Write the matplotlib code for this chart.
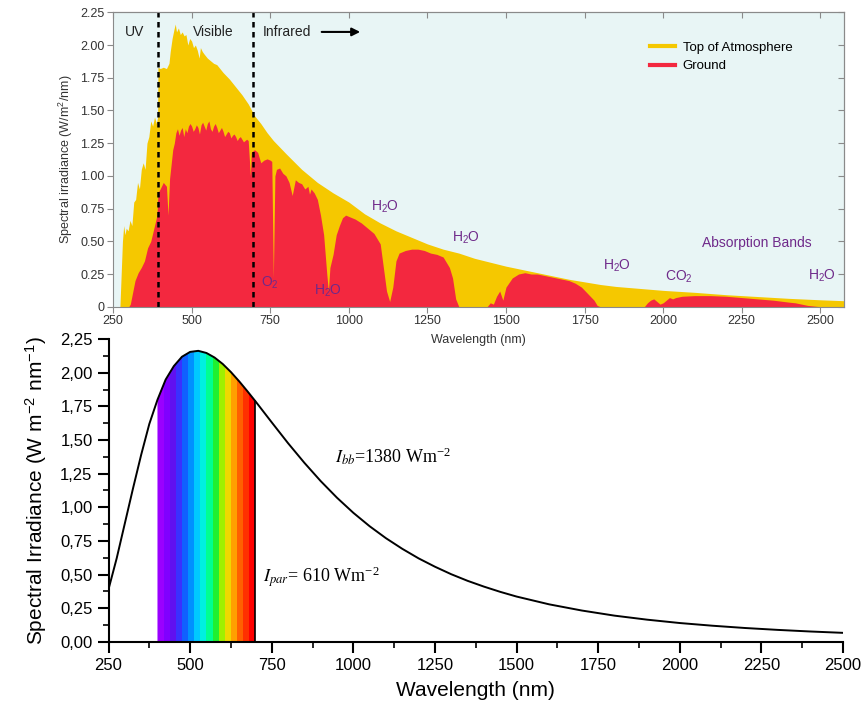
import numpy as np
import matplotlib.pyplot as plt
from matplotlib.patches import Polygon
from matplotlib.lines import Line2D
from matplotlib.ticker import MultipleLocator, FuncFormatter

plt.rcParams['font.family'] = ['Liberation Sans', 'DejaVu Sans']
plt.rcParams['mathtext.fontset'] = 'stix'

# ---- top panel: solar spectrum ----
toa_wl = [250, 272, 276, 280, 284, 288, 292, 298, 304, 310, 316, 322, 328, 334, 340,
          346, 352, 358, 364, 370, 376, 382, 388, 392, 393, 400, 410, 420, 428, 432,
          438, 444, 448, 452, 458, 464, 470, 476, 482, 488, 494, 500, 506, 512, 518,
          524, 528, 534, 540, 550, 560, 570, 580, 590, 600, 620, 640, 660, 680, 700,
          720, 740, 760, 780, 800, 850, 900, 950, 1000, 1050, 1100, 1150, 1200, 1250,
          1300, 1350, 1400, 1450, 1500, 1550, 1600, 1650, 1700, 1750, 1800, 1850,
          1900, 1950, 2000, 2100, 2200, 2300, 2400, 2500, 2575]
toa_val = [0, 0, 0.25, 0.5, 0.62, 0.55, 0.6, 0.58, 0.66, 0.62, 0.8, 0.82, 0.95, 0.9, 1.05,
           1.1, 1.05, 1.25, 1.3, 1.42, 1.38, 1.45, 1.4, 1.45, 1.83, 1.82, 1.83, 1.82, 1.86, 1.95,
           2.05, 2.12, 2.16, 2.1, 2.13, 2.08, 2.1, 2.07, 2.08, 2.0, 2.05, 2.03, 1.98, 2.0, 1.96,
           1.9, 1.98, 1.95, 1.93, 1.90, 1.88, 1.86, 1.85, 1.82, 1.79, 1.74, 1.68, 1.62, 1.55, 1.46,
           1.40, 1.33, 1.27, 1.22, 1.17, 1.05, 0.95, 0.87, 0.80, 0.71, 0.64, 0.58, 0.53, 0.48,
           0.44, 0.41, 0.37, 0.34, 0.31, 0.285, 0.26, 0.235, 0.21, 0.19, 0.17, 0.155,
           0.145, 0.135, 0.125, 0.11, 0.092, 0.078, 0.064, 0.053, 0.046]

gnd_wl = [250, 300, 305, 310, 320, 330, 340, 350, 360, 370, 380, 390, 393, 400, 410, 420,
          425, 430, 440, 445, 450, 455, 460, 465, 470, 475, 480, 485, 490, 495, 500, 505,
          510, 515, 520, 525, 530, 535, 540, 545, 550, 555, 560, 565, 570, 575, 580, 585,
          590, 595, 600, 605, 610, 615, 620, 625, 630, 635, 640, 645, 650, 655, 660, 665,
          670, 675, 680, 687, 690, 700, 710, 720, 730, 740, 750, 755, 760, 765, 770, 780,
          790, 800, 810, 820, 830, 840, 850, 860, 870, 875, 880, 890, 900, 910, 920, 930,
          935, 940, 950, 960, 970, 980, 990, 1000, 1020, 1040, 1060, 1080, 1100, 1110,
          1120, 1130, 1140, 1150, 1160, 1180, 1200, 1220, 1240, 1260, 1280, 1300, 1320,
          1330, 1340, 1350, 1440, 1450, 1460, 1470, 1480, 1490, 1500, 1520, 1540, 1560,
          1580, 1600, 1620, 1640, 1660, 1680, 1700, 1720, 1740, 1760, 1780, 1790, 1800,
          1940, 1950, 1960, 1970, 1980, 1990, 2000, 2010, 2020, 2030, 2040, 2060, 2100,
          2150, 2200, 2250, 2300, 2350, 2400, 2420, 2440, 2460, 2480, 2500, 2575]
gnd_val = [0, 0, 0.02, 0.08, 0.2, 0.26, 0.3, 0.35, 0.45, 0.5, 0.6, 0.7, 0.87, 0.9, 0.95, 0.92,
           0.7, 0.98, 1.2, 1.25, 1.33, 1.36, 1.31, 1.35, 1.37, 1.30, 1.36, 1.33, 1.38, 1.40, 1.38, 1.34,
           1.36, 1.39, 1.37, 1.32, 1.39, 1.41, 1.38, 1.35, 1.40, 1.42, 1.36, 1.34, 1.38, 1.40, 1.37, 1.33,
           1.35, 1.37, 1.34, 1.30, 1.32, 1.34, 1.33, 1.29, 1.31, 1.32, 1.30, 1.27, 1.29, 1.30, 1.28, 1.26,
           1.27, 1.28, 1.27, 1.0, 1.18, 1.2, 1.18, 1.1, 1.12, 1.13, 1.12, 1.11, 0.22, 1.0, 1.05, 1.06,
           1.02, 1.00, 0.95, 0.85, 0.97, 0.95, 0.94, 0.90, 0.92, 0.86, 0.90, 0.87, 0.82, 0.70, 0.55, 0.25,
           0.12, 0.3, 0.4, 0.55, 0.62, 0.68, 0.70, 0.69, 0.67, 0.64, 0.60, 0.56, 0.48, 0.30,
           0.12, 0.04, 0.15, 0.35, 0.41, 0.43, 0.44, 0.44, 0.43, 0.41, 0.40, 0.38, 0.30,
           0.22, 0.06, 0, 0, 0.03, 0.02, 0.08, 0.12, 0.05, 0.15, 0.22, 0.25, 0.26,
           0.25, 0.25, 0.24, 0.23, 0.22, 0.21, 0.20, 0.18, 0.15, 0.10, 0.05, 0.01, 0,
           0, 0.03, 0.05, 0.06, 0.04, 0.02, 0.03, 0.05, 0.07, 0.06, 0.07, 0.08, 0.085,
           0.085, 0.08, 0.07, 0.06, 0.05, 0.035, 0.03, 0.02, 0.01, 0.005, 0, 0]

# ---- bottom panel: blackbody curve ----
bb_wl = [250, 275, 300, 325, 350, 375, 400, 425, 450, 475, 500, 525, 550, 575, 600, 625,
         650, 675, 700, 750, 800, 850, 900, 950, 1000, 1050, 1100, 1150, 1200, 1250, 1300,
         1350, 1400, 1450, 1500, 1600, 1700, 1800, 1900, 2000, 2100, 2200, 2300, 2400, 2500]
bb_val = [0.39, 0.62, 0.88, 1.14, 1.39, 1.62, 1.80, 1.95, 2.05, 2.12, 2.156, 2.164, 2.148,
          2.114, 2.066, 2.006, 1.938, 1.865, 1.789, 1.632, 1.477, 1.331, 1.195, 1.071, 0.959,
          0.859, 0.770, 0.691, 0.620, 0.558, 0.502, 0.453, 0.410, 0.371, 0.336, 0.278, 0.232,
          0.194, 0.164, 0.139, 0.119, 0.102, 0.088, 0.076, 0.066]

par_colors = ['#9A00FF', '#8000FF', '#6010F0', '#3A30FF', '#1060FF', '#0090FF', '#00C8FF',
              '#00F0E0', '#00FF90', '#20F030', '#A0F000', '#F0D800', '#FFA000', '#FF6000',
              '#FF3000', '#FF0000']

yellow = '#F5C800'
red = '#F3283F'
purple = '#6F2A8A'
grey = '#8A8A8A'
sub2 = '$\\mathregular{_2}$'

fig = plt.figure(figsize=(8.66, 7.15), dpi=100)

# top panel
ax1 = fig.add_axes([0.1305, 0.571, 0.844, 0.4118])
ax1.set_facecolor('#E8F5F5')
ax1.fill_between(toa_wl, toa_val, color=yellow, lw=0)
ax1.fill_between(gnd_wl, gnd_val, color=red, lw=0)
ax1.set_xlim(250, 2575)
ax1.set_ylim(0, 2.25)
ax1.set_xticks(range(250, 2501, 250))
yt = np.arange(0, 2.26, 0.25)
ax1.set_yticks(yt)
ax1.set_yticklabels(['0'] + ['%.2f' % v for v in yt[1:]])
ax1.tick_params(length=4, color=grey, labelsize=9, labelcolor='#333333', pad=2)
for s in ax1.spines.values():
    s.set_color(grey)
sx = ax1.secondary_xaxis('top')
sx.set_xticks(range(250, 2501, 250))
sx.tick_params(direction='in', length=4, color=grey, labeltop=False)
sy = ax1.secondary_yaxis('right')
sy.set_yticks(yt)
sy.tick_params(direction='in', length=4, color=grey, labelright=False)
for s in list(sx.spines.values()) + list(sy.spines.values()):
    s.set_color(grey)

ax1.axvline(392, color='black', ls=(0, (2.2, 1.8)), lw=1.8)
ax1.axvline(695, color='black', ls=(0, (2.2, 1.8)), lw=1.8)
ax1.text(320, 2.1, 'UV', fontsize=10, ha='center', va='center', color='#222222')
ax1.text(568, 2.1, 'Visible', fontsize=10, ha='center', va='center', color='#222222')
ax1.text(727, 2.1, 'Infrared', fontsize=10, ha='left', va='center', color='#222222')
ax1.annotate('', xy=(1045, 2.1), xytext=(905, 2.1),
             arrowprops=dict(arrowstyle='-|>', color='black', lw=1.5, mutation_scale=12))

ax1.text(749, 0.18, 'O' + sub2, fontsize=10, ha='center', va='center', color=purple)
for x, y in [(934, 0.12), (1115, 0.76), (1373, 0.53), (1853, 0.31), (2505, 0.235)]:
    ax1.text(x, y, 'H' + sub2 + 'O', fontsize=10, ha='center', va='center', color=purple)
ax1.text(2050, 0.23, 'CO' + sub2, fontsize=10, ha='center', va='center', color=purple)
ax1.text(2298, 0.49, 'Absorption Bands', fontsize=10, ha='center', va='center', color=purple)

handles = [Line2D([], [], color=yellow, lw=3), Line2D([], [], color=red, lw=3)]
ax1.legend(handles, ['Top of Atmosphere', 'Ground'], loc='upper left',
           bbox_to_anchor=(0.718, 0.94), frameon=False, fontsize=9.5,
           handlelength=1.9, handletextpad=0.6, labelspacing=0.45)
ax1.set_xlabel('Wavelength (nm)', fontsize=9, color='#333333', labelpad=5)
ax1.set_ylabel('Spectral irradiance (W/m$^{\\mathregular{2}}$/nm)', fontsize=9,
               color='#333333', labelpad=4)

# bottom panel
ax2 = fig.add_axes([0.1253, 0.1025, 0.8481, 0.423])
ax2.patch.set_alpha(0)
pts = [(400, 0)] + [(w, v) for w, v in zip(bb_wl, bb_val) if 400 <= w <= 700] + [(700, 0)]
clip = Polygon(pts, closed=True, transform=ax2.transData, facecolor='none', edgecolor='none')
ax2.add_patch(clip)
step = (700 - 400) / len(par_colors)
for i, c in enumerate(par_colors):
    sp = ax2.axvspan(400 + i * step, 400 + (i + 1) * step, color=c, lw=0)
    sp.set_clip_path(clip)
ax2.plot([700, 700], [0, bb_val[bb_wl.index(700)]], color='black', lw=1.2)
ax2.plot(bb_wl, bb_val, color='black', lw=1.4)

ax2.set_xlim(250, 2500)
ax2.set_ylim(0, 2.25)
ax2.xaxis.set_major_locator(MultipleLocator(250))
ax2.xaxis.set_minor_locator(MultipleLocator(125))
ax2.yaxis.set_major_locator(MultipleLocator(0.25))
ax2.yaxis.set_minor_locator(MultipleLocator(0.125))
ax2.yaxis.set_major_formatter(FuncFormatter(lambda v, p: ('%.2f' % v).replace('.', ',')))
ax2.tick_params(which='major', direction='out', length=8, width=1.5, labelsize=12)
ax2.tick_params(which='minor', direction='out', length=4, width=1.2)
ax2.spines['top'].set_visible(False)
ax2.spines['right'].set_visible(False)
ax2.spines['left'].set_linewidth(1.5)
ax2.spines['bottom'].set_linewidth(1.5)
ax2.set_xlabel('Wavelength (nm)', fontsize=15, labelpad=6)
ax2.set_ylabel('Spectral Irradiance (W m$^{\\mathregular{-2}}$ nm$^{\\mathregular{-1}}$)',
               fontsize=15, labelpad=8)

ax2.text(944, 1.33, '$I_{bb}$=1380 Wm$^{\\mathregular{-2}}$', family='Liberation Serif', fontsize=13)
ax2.text(723, 0.44, '$I_{par}$= 610 Wm$^{\\mathregular{-2}}$', family='Liberation Serif', fontsize=13)

fig.savefig('out.png', dpi=100)
